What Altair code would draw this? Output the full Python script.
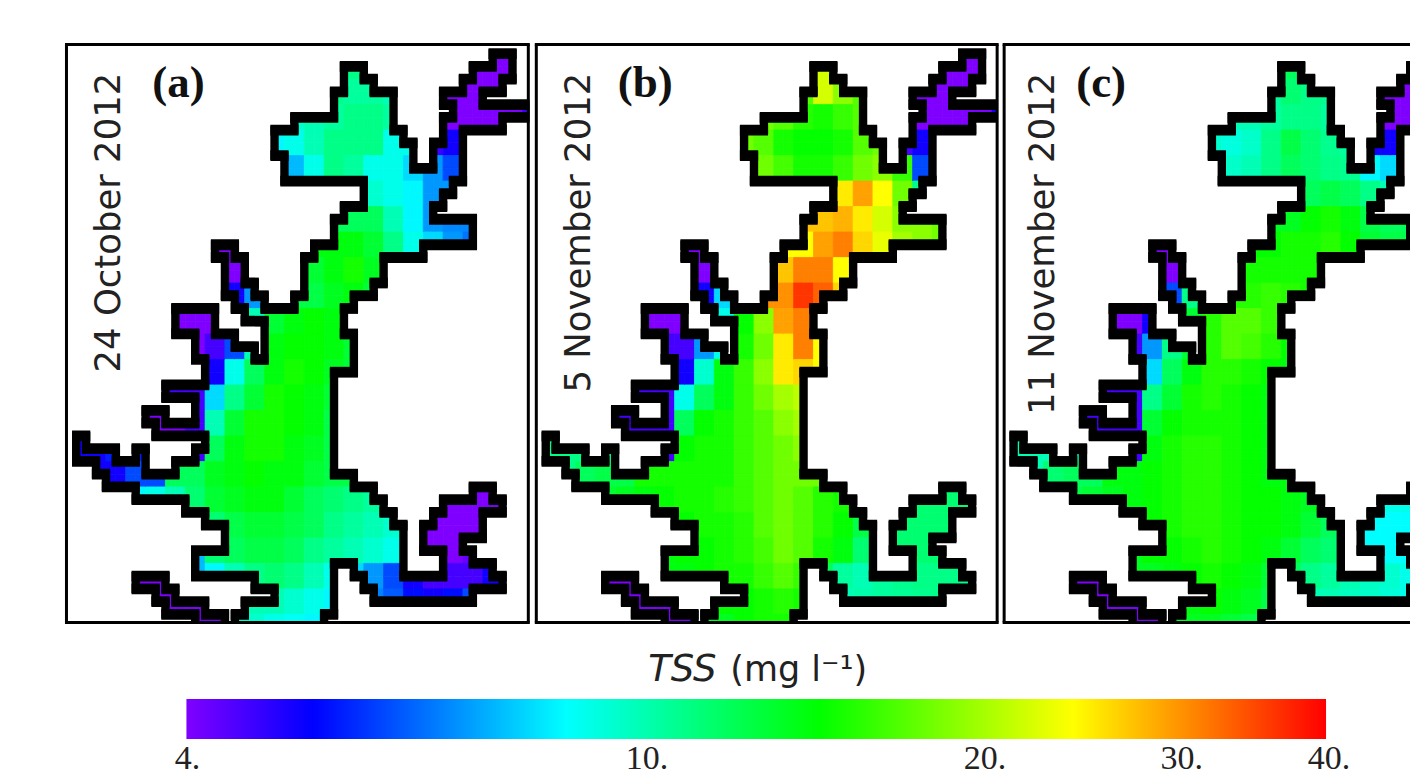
import altair as alt
import pandas as pd

# Coastline vertices in model-grid units (column, row)
COAST_MAIN = [(28,1),(30,1),(30,2),(31,2),(31,3),(33,3),(33,6),(34,6),(34,7),(35,7),(35,9),(37,9),(37,7),(38,7),(38,5),(39,5),(39,4),(38,4),(38,3),(40,3),(40,2),(41,2),(41,1),(43,1),(43,0),(45,0),(45,2),(44,2),(44,3),(42,3),(42,4),(47,4),(47,5),(44,5),(44,6),(40,6),(40,10),(39,10),(39,11),(38,11),(38,12),(37,12),(37,13),(41,13),(41,15),(36,15),(36,16),(32,16),(32,18),(31,18),(31,19),(29,19),(29,20),(28,20),(28,22),(29,22),(29,25),(27,25),(27,33),(29,33),(29,34),(31,34),(31,35),(32,35),(32,36),(33,36),(33,37),(34,37),(34,41),(38,41),(38,39),(36,39),(36,37),(37,37),(37,36),(38,36),(38,35),(41,35),(41,34),(43,34),(43,35),(44,35),(44,36),(42,36),(42,38),(40,38),(40,39),(41,39),(41,40),(43,40),(43,41),(44,41),(44,42),(41,42),(41,43),(31,43),(31,42),(30,42),(30,41),(29,41),(29,40),(27,40),(27,44),(26,44),(26,46),(17,46),(17,44),(18,44),(18,43),(21,43),(21,42),(19,42),(19,41),(13,41),(13,39),(16,39),(16,37),(14,37),(14,36),(12,36),(12,35),(7,35),(7,34),(4,34),(4,33),(3,33),(3,32),(1,32),(1,30),(2,30),(2,31),(5,31),(5,32),(7,32),(7,31),(8,31),(8,33),(11,33),(11,32),(13,32),(13,31),(14,31),(14,30),(9,30),(9,29),(8,29),(8,28),(10,28),(10,29),(13,29),(13,27),(10,27),(10,26),(14,26),(14,24),(13,24),(13,22),(11,22),(11,20),(15,20),(15,22),(17,22),(17,23),(19,23),(19,24),(20,24),(20,21),(18,21),(18,20),(17,20),(17,19),(16,19),(16,16),(15,16),(15,15),(17,15),(17,16),(18,16),(18,18),(19,18),(19,19),(20,19),(20,20),(23,20),(23,19),(24,19),(24,16),(25,16),(25,15),(27,15),(27,13),(28,13),(28,12),(30,12),(30,10),(22,10),(22,8),(21,8),(21,6),(23,6),(23,5),(27,5),(27,3),(28,3),(28,1)]
COAST_CREEK = [(7,41),(10,41),(10,42),(11,42),(11,43),(14,43),(14,44),(16,44),(16,46),(13,46),(13,44),(10,44),(10,43),(9,43),(9,42),(7,42),(7,41)]

# TSS (mg/l) on 2x2 grid-cell blocks, one list per block row: (first block column, values)
TSS_A = [
 [(14,[11]),(21,[4,4])],
 [(13,[11,10.5,10.5,10]),(19,[4,4,4,4])],
 [(11,[9.5,10,10.5,11,11,10.5]),(19,[4,4,4,4,4.6])],
 [(10,[8.5,9,10,11,11,11,9,9,4.6,5])],
 [(10,[7,7.5,9,11,10.5,9,9,8,7,6])],
 [(15,[9.5,9,8.5,7,7])],
 [(14,[12,12,10,8.5,7,6.8,6.8])],
 [(7,[4,4]),(13,[14,14,13,11,9,8,7,6.5])],
 [(8,[4]),(12,[13,14,15,13.5])],
 [(8,[5,7]),(12,[12.5,13.5,14,13])],
 [(5,[4,4,4]),(9,[10,13,14,14.5,14,13])],
 [(6,[4,4.5,6]),(10,[14,14.5,14.5,14,13])],
 [(7,[5,9,12,14,15,14.5,13.5,13])],
 [(5,[4.5,4.5,8,11,13,15,14.5,14,13])],
 [(4,[4,4,4.5,10,13,15,15,14.5,14,12.5])],
 [(0,[5,5,5.5]),(7,[12,14,15,15,14,13.5,12.5])],
 [(2,[5,6]),(5,[12,12,13.5,14,14.5,14,14,13,12.5])],
 [(3,[8.5,9,10,11.5,13,13.5,14,14,13,12,11.5,11,10.5]),(19,[4,4,4])],
 [(7,[11.5,12.5,13,13,12.5,12,11,10.5,10,9.5]),(18,[4,4,4])],
 [(8,[12,12.5,12.5,12,11,10.5,10,9.5,9]),(18,[4,4,4.2])],
 [(3,[4,4]),(6,[7.5,8.5,10,11,11.5,11,10,9,8,7,6,5,4.5,4.5,4.5,5])],
 [(4,[4,4,4]),(9,[10,10,9.5,9,8.5]),(15,[6.7,6.2,5.3,5,5.3,6])],
 [(5,[4,4]),(8,[9.5,9.5,9,8.8,8.5,8.5])],
]
TSS_B = [
 [(14,[22]),(21,[4,4])],
 [(13,[17,22,19,17]),(19,[4,4,4,4])],
 [(11,[18,17,15.5,15,16,17]),(19,[4,4,4,4,5])],
 [(10,[18,17,15,14.5,14.5,15,17,18,4.5,5])],
 [(10,[19,18,16.5,15,15,16,18,19,16,6])],
 [(15,[25,29,24,18,11])],
 [(14,[27,28,25,22,19,19,18])],
 [(7,[4,4]),(13,[24,29,31,26,23,20,19,18])],
 [(8,[4]),(12,[27,31,31,24])],
 [(8,[5,8]),(12,[30,36,33,26])],
 [(5,[4,4,4]),(9,[9,14.5,19,29,31,24])],
 [(6,[4.5,4.5,7]),(10,[15,18,25,31,24])],
 [(7,[5,9.5,14,16,19,25,26,24])],
 [(5,[4.5,4.5,9,12,14,16,18,20,21])],
 [(4,[4.5,4.5,4.5,12,14.5,15,16,17,19,20])],
 [(0,[11,11,11]),(7,[14.5,15,15,16,17,18,19])],
 [(2,[12,12.5]),(5,[15,15,15,15,15,16,17,18,18])],
 [(3,[13,13.5,14,14.5,15,15,15.5,16,17,18,17,15.5,15]),(19,[11.5,11.5,11.5])],
 [(7,[14.5,15,15,15.5,17,18,17,15.5,14.5,12.5]),(18,[11.5,11.5,11.5])],
 [(8,[14.5,15,15.5,16.5,18,17,15,14,11.5]),(18,[11.5,11.5,11.5])],
 [(3,[4,4]),(6,[14,14,14.5,15,15,16,17,16,12,10.5,10,10.5,10.8,11,11,11])],
 [(4,[4,4,4]),(9,[14.5,14.5,15,15.5,15]),(15,[10,10.2,10.5,10.7,10.8,11])],
 [(5,[4,4]),(8,[13,13.5,14.5,15,15,15])],
]
TSS_C = [
 [(14,[12]),(21,[4,4])],
 [(13,[10.5,11.5,11,10.8]),(19,[4,4,4,4])],
 [(11,[10,10,10.5,11,11,10.5]),(19,[4,4,4,4,4])],
 [(10,[9.5,9.2,9.6,11,12.5,11.5,10.8,10.5,5,5])],
 [(10,[9.6,9.6,10,11,12,11.5,11,10.8,8.5,8])],
 [(15,[12,12.5,12,11,10])],
 [(14,[13.5,14.5,15,14,12.5,12,12])],
 [(7,[4,4]),(13,[14.5,15,15,15.5,14.5,13,12.5,12.5])],
 [(8,[4]),(12,[15,15,15,15])],
 [(8,[6,11]),(12,[15.5,16,15.5,15])],
 [(5,[4,4,5]),(9,[13,15.5,17,17,16,15])],
 [(6,[4.5,7,11]),(10,[15.5,17,16.5,15.5,14.5])],
 [(7,[8,12,14,15.5,15.5,15,14.5,14])],
 [(5,[4.5,4.5,11,13,15,15.5,15,14.5,14])],
 [(4,[4.5,4.5,4.5,13,14.5,15,15,15,14.5,14])],
 [(0,[10,10,10]),(7,[14,15,15.5,15.5,15,14.5,14])],
 [(2,[11.5,12]),(5,[14,14,14.5,15,15.5,15.5,15,14.5,14])],
 [(3,[12.5,13,13.5,14,14.5,15,15.5,15.5,15,14.5,14.5,14,13.5]),(19,[9,9,9])],
 [(7,[14.5,15,15.5,15.5,15,14.5,14.5,14,13,12]),(18,[8.6,8.6,8.6])],
 [(8,[14.5,15,15.5,15,14.5,14,13,12,11.5]),(18,[8.6,8.6,8.6])],
 [(3,[4,4]),(6,[13.5,13.5,14,14.5,15,14.5,14,13,12,11,10.5,10,9.7,9.5,9,8.8])],
 [(4,[4,4,4]),(9,[14,14.5,14,13.5,12.5]),(15,[10,10,9.8,9.6,9.3,9])],
 [(5,[4,4]),(8,[13,13.5,13.5,13,12.5,12])],
]

DATES = ["24 October 2012", "5 November 2012", "11 November 2012"]
LETTERS = ["(a)", "(b)", "(c)"]
COLOR_STOPS = [4, 5.17, 8.62, 14.4, 24, 40]
COLOR_RANGE = ["#8000ff", "#0000ff", "#00ffff", "#00ff00", "#ffff00", "#ff0000"]
BAR_TICKS = [4, 10, 20, 30, 40]
BAR_LABELS = ["4.", "10.", "20.", "30.", "40."]
BAR_LABEL_SHIFT = [1, 7, 2, -2, 3]

CELL_W, CELL_H = 9.92, 12.75


def inside(px, py, poly):
    hit = False
    for (x0, y0), (x1, y1) in zip(poly, poly[1:]):
        if x0 == x1 and (y0 > py) != (y1 > py) and px < x0:
            hit = not hit
    return hit


def block_lookup(rows):
    out = {}
    for bj, row in enumerate(rows):
        for start, values in row:
            for k, v in enumerate(values):
                out[(start + k, bj)] = v
    return out


def cells_frame(rows):
    blocks = block_lookup(rows)
    recs = []
    for i in range(0, 47):
        for j in range(0, 46):
            if inside(i + .5, j + .5, COAST_MAIN) or inside(i + .5, j + .5, COAST_CREEK):
                b = (i // 2, j // 2)
                if b not in blocks:
                    b = min(blocks, key=lambda q: abs(q[0] - b[0]) + abs(q[1] - b[1]))
                recs.append({"i": i, "i2": i + 1, "j": j, "j2": j + 1, "tss": blocks[b]})
    return pd.DataFrame(recs)


def line_frame():
    recs = []
    for pid, poly in enumerate([COAST_MAIN, COAST_CREEK]):
        for n, (x, y) in enumerate(poly):
            recs.append({"p": pid, "n": n, "x": x, "y": y})
    return pd.DataFrame(recs)


def horizontal_frame():
    recs = []
    for poly in [COAST_MAIN, COAST_CREEK]:
        for (x0, y0), (x1, y1) in zip(poly, poly[1:]):
            if y0 == y1:
                recs.append({"a": min(x0, x1) - .42, "b": max(x0, x1) + .42, "y": y0})
    return pd.DataFrame(recs)


TOP = -0.702
H = 578
color_scale = alt.Scale(type="log", domain=COLOR_STOPS, range=COLOR_RANGE, interpolate="rgb")


def frame_rule(x0, x1, y0, y1):
    return alt.Chart(pd.DataFrame({"k": [0]})).mark_rule(
        color="black", strokeWidth=3, strokeCap="butt").encode(
        x=alt.value(x0), x2=alt.value(x1), y=alt.value(y0), y2=alt.value(y1))


def panel(rows, date, letter, width, frame_w, x_start, letter_x, date_x, right_side=True):
    xs = alt.Scale(domain=[x_start, x_start + width / CELL_W], nice=False, zero=False)
    ys = alt.Scale(domain=[TOP, TOP + H / CELL_H], nice=False, zero=False, reverse=True)
    cells = alt.Chart(cells_frame(rows)).mark_rect(clip=True, strokeWidth=0.8).encode(
        x=alt.X("i:Q", scale=xs, axis=None), x2="i2:Q",
        y=alt.Y("j:Q", scale=ys, axis=None), y2="j2:Q",
        color=alt.Color("tss:Q", scale=color_scale, legend=None),
        stroke=alt.Stroke("tss:Q", scale=color_scale, legend=None))
    coast = alt.Chart(line_frame()).mark_line(
        clip=True, color="black", strokeWidth=8.4, strokeJoin="miter", strokeCap="square").encode(
        x=alt.X("x:Q", scale=xs, axis=None), y=alt.Y("y:Q", scale=ys, axis=None),
        detail="p:N", order="n:Q")
    horiz = alt.Chart(horizontal_frame()).mark_rule(
        clip=True, color="black", strokeWidth=10.8, strokeCap="butt").encode(
        x=alt.X("a:Q", scale=xs, axis=None), x2="b:Q", y=alt.Y("y:Q", scale=ys, axis=None))
    k = pd.DataFrame({"k": [0]})
    date_t = alt.Chart(k).mark_text(
        angle=270, align="right", baseline="alphabetic", font="DejaVu Sans", fontSize=35.5,
        color="#222222").encode(x=alt.value(date_x), y=alt.value(28), text=alt.value(date))
    letter_t = alt.Chart(k).mark_text(
        align="center", baseline="alphabetic", font="Liberation Serif", fontSize=45,
        fontWeight="bold", color="#111111").encode(
        x=alt.value(letter_x), y=alt.value(52), text=alt.value(letter))
    parts = [cells, coast, horiz,
             frame_rule(-1.5, frame_w + (0 if not right_side else 1.5), 0, 0),
             frame_rule(-1.5, frame_w + (0 if not right_side else 1.5), H, H),
             frame_rule(0, 0, 0, H)]
    if right_side:
        parts.append(frame_rule(frame_w, frame_w, 0, H))
    parts += [date_t, letter_t]
    return alt.layer(*parts).properties(width=width, height=H)


pa = panel(TSS_A, DATES[0], LETTERS[0], 463, 462, 0.02, 112, 54)
pb = panel(TSS_B, DATES[1], LETTERS[1], 461, 461, 0.05, 109, 54)
pc = panel(TSS_C, DATES[2], LETTERS[2], 406, 406, 0.05, 97, 50, right_side=False)

bar_x = alt.Scale(type="log", domain=[4, 40], range=[120, 1260], nice=False)
gradient = alt.Gradient(
    gradient="linear", x1=0, x2=1, y1=0, y2=0,
    stops=[alt.GradientStop(offset=(k / 9), color=c)
           for k, c in zip([0, 1, 3, 5, 7, 9], COLOR_RANGE)])
bar = alt.Chart(pd.DataFrame({"lo": [BAR_TICKS[0]], "hi": [BAR_TICKS[-1]]})).mark_rect(color=gradient).encode(
    x=alt.X("lo:Q", scale=bar_x, axis=None), x2="hi:Q", y=alt.value(73), y2=alt.value(113))
tick_layers = [
    alt.Chart(pd.DataFrame({"v": [v], "t": [t]})).mark_text(
        align="center", baseline="alphabetic", font="Liberation Serif", fontSize=34,
        color="#222222", dx=d).encode(
        x=alt.X("v:Q", scale=bar_x, axis=None), y=alt.value(143), text="t:N")
    for v, t, d in zip(BAR_TICKS, BAR_LABELS, BAR_LABEL_SHIFT)
]
k0 = pd.DataFrame({"k": [0]})
title_a = alt.Chart(k0).mark_text(
    align="left", baseline="alphabetic", font="DejaVu Sans", fontStyle="italic", fontSize=37,
    color="#222222").encode(x=alt.value(582), y=alt.value(55), text=alt.value("TSS"))
title_b = alt.Chart(k0).mark_text(
    align="left", baseline="alphabetic", font="DejaVu Sans", fontSize=35,
    color="#222222").encode(x=alt.value(664), y=alt.value(55), text=alt.value("(mg l\u207b\u00b9)"))
legend = alt.layer(bar, *tick_layers, title_a, title_b).properties(width=1330, height=143)

chart = alt.vconcat(
    alt.hconcat(pa, pb, pc, spacing=7, bounds="flush"),
    legend, spacing=1.5
).configure_view(strokeWidth=0).properties(
    padding={"left": 55.5, "top": 34.5, "right": 0, "bottom": 0})

chart.save("out.html", embed_options={"renderer": "svg", "actions": False})
